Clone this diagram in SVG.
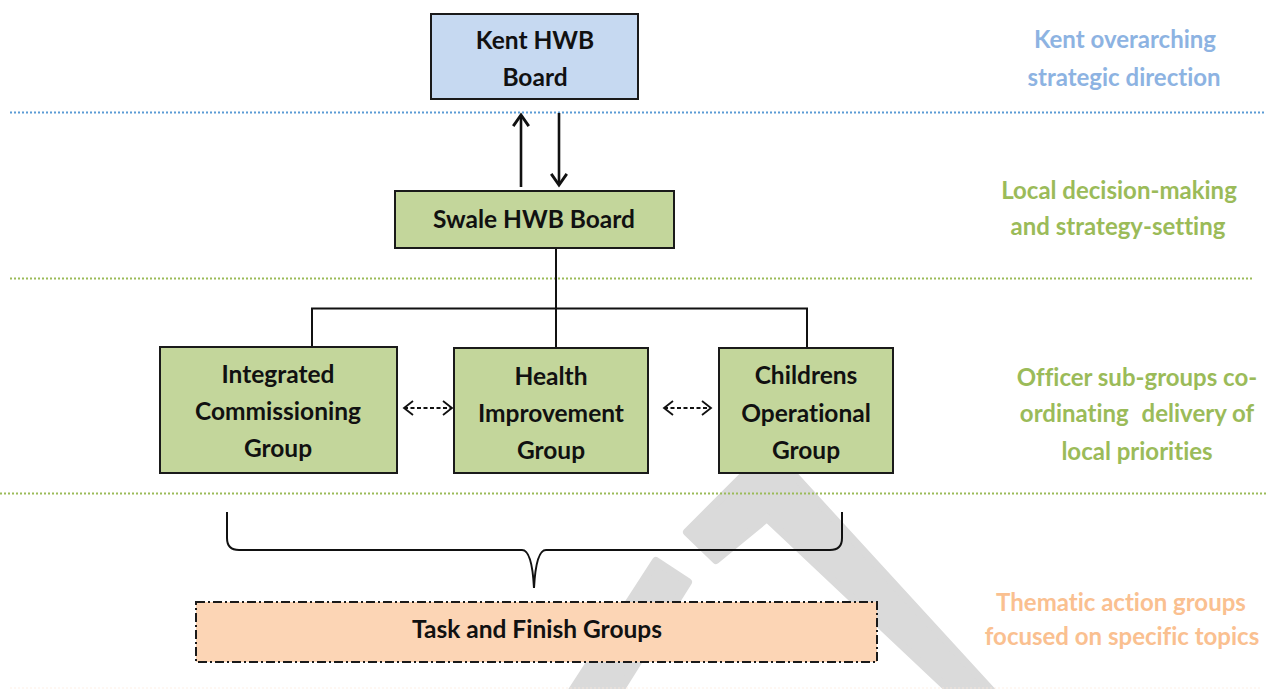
<svg xmlns="http://www.w3.org/2000/svg" width="1268" height="689" viewBox="0 0 1268 689">
  <style>
    text { font-variant-ligatures: none; }
    .box { stroke: #1a1a1a; stroke-width: 2; }
    .kent { fill: #c6d9f1; }
    .green { fill: #c3d69b; }
    .task { fill: #fcd5b5; stroke: #1a1a1a; stroke-width: 2; stroke-dasharray: 9 3 2 3; }
    .lbl { font-family: Lato, "Liberation Sans", sans-serif; font-weight: 700; font-size: 24.5px; text-anchor: middle; fill: #111; }
    .side { font-family: Lato, "Liberation Sans", sans-serif; font-weight: 700; font-size: 24px; text-anchor: middle; }
    .blue-t { fill: #8db3e2; }
    .green-t { fill: #9bbb59; }
    .orange-t { fill: #fac090; }
    .dots { stroke-width: 2.2; stroke-dasharray: 2 2; fill: none; }
    .wire { stroke: #111; stroke-width: 2; fill: none; }
    .heavy { stroke: #111; stroke-width: 2.6; fill: none; }
    .dash { stroke: #111; stroke-width: 1.8; stroke-dasharray: 4 2.5; fill: none; }
    .mark { fill: #dadada; stroke: #dadada; stroke-width: 8; stroke-linejoin: round; }
  </style>
  <defs>
    <marker id="openHead" markerUnits="userSpaceOnUse" markerWidth="20" markerHeight="20" viewBox="-12 -9 14 18" refX="0" refY="0" orient="auto">
      <path d="M -10 -7 L 0 0 L -10 7" fill="none" stroke="#111" stroke-width="2.6"/>
    </marker>
    <marker id="smallHead" markerUnits="userSpaceOnUse" markerWidth="18" markerHeight="18" viewBox="-11 -9 13 18" refX="0" refY="0" orient="auto-start-reverse">
      <path d="M -9 -7 L 0 0 L -9 7" fill="none" stroke="#111" stroke-width="1.8"/>
    </marker>
  </defs>

  <rect width="1268" height="689" fill="#ffffff"/>

  <!-- background watermark strokes -->
  <g id="watermark">
    <path class="mark" d="M 770 449 L 1000 700 L 960 700 L 767 518 L 716 560 L 687 532 Z"/>
    <path class="mark" d="M 656 561 L 688 582 L 614 700 L 566 700 Z"/>
  </g>

  <!-- tier separators -->
  <g id="separators">
    <line class="dots" x1="10" y1="112.5" x2="1265" y2="112.5" stroke="#5b9bd5"/>
    <line class="dots" x1="10" y1="278.5" x2="1252" y2="278.5" stroke="#9bbb59"/>
    <line class="dots" x1="0" y1="493.5" x2="1266" y2="493.5" stroke="#9bbb59"/>
    <line class="dots" x1="10" y1="688" x2="1260" y2="688" stroke="#fde9d9" opacity="0.35"/>
  </g>

  <!-- connectors -->
  <g id="connectors">
    <line class="heavy" x1="521" y1="187" x2="521" y2="115" marker-end="url(#openHead)"/>
    <line class="heavy" x1="559" y1="113" x2="559" y2="185" marker-end="url(#openHead)"/>
    <polyline class="wire" points="556,248 556,347"/>
    <polyline class="wire" points="312,347 312,308.5 807,308.5 807,348"/>
    <line class="dash" x1="404" y1="408" x2="452" y2="408" marker-start="url(#smallHead)" marker-end="url(#smallHead)"/>
    <line class="dash" x1="664" y1="408" x2="711" y2="408" marker-start="url(#smallHead)" marker-end="url(#smallHead)"/>
    <path class="wire" d="M 227 512 L 227 538 Q 227 550 239 550 L 522 550 Q 532 550 534 588 Q 536 550 546 550 L 830 550 Q 842 550 842 538 L 842 512"/>
  </g>

  <g id="kent-hwb">
    <rect class="box kent" x="431" y="14" width="207" height="85"/>
    <text class="lbl" x="535" y="49">Kent HWB</text>
    <text class="lbl" x="535" y="86">Board</text>
  </g>

  <g id="swale-hwb">
    <rect class="box green" x="395" y="191" width="279" height="57"/>
    <text class="lbl" x="534" y="228">Swale HWB Board</text>
  </g>

  <g id="integrated-commissioning">
    <rect class="box green" x="160" y="347" width="237" height="126"/>
    <text class="lbl" x="278" y="383">Integrated</text>
    <text class="lbl" x="278" y="420">Commissioning</text>
    <text class="lbl" x="278" y="457">Group</text>
  </g>

  <g id="health-improvement">
    <rect class="box green" x="454" y="348" width="194" height="125"/>
    <text class="lbl" x="551" y="385">Health</text>
    <text class="lbl" x="551" y="422">Improvement</text>
    <text class="lbl" x="551" y="459">Group</text>
  </g>

  <g id="childrens-operational">
    <rect class="box green" x="719" y="348" width="174" height="125"/>
    <text class="lbl" x="806" y="384">Childrens</text>
    <text class="lbl" x="806" y="422">Operational</text>
    <text class="lbl" x="806" y="459">Group</text>
  </g>

  <g id="task-and-finish">
    <rect class="task" x="196" y="602" width="681" height="60"/>
    <text class="lbl" x="537" y="638">Task and Finish Groups</text>
  </g>

  <!-- tier descriptions -->
  <g id="tier-labels">
    <text class="side blue-t" x="1125" y="48">Kent overarching</text>
    <text class="side blue-t" x="1124" y="86">strategic direction</text>
    <text class="side green-t" x="1119" y="199">Local decision-making</text>
    <text class="side green-t" x="1118" y="235">and strategy-setting</text>
    <text class="side green-t" x="1137" y="386">Officer sub-groups co-</text>
    <text class="side green-t" x="1137" y="422">ordinating<tspan dx="7"> delivery of</tspan></text>
    <text class="side green-t" x="1137" y="460">local priorities</text>
    <text class="side orange-t" x="1121" y="611">Thematic action groups</text>
    <text class="side orange-t" x="1122" y="645">focused on specific topics</text>
  </g>
</svg>
